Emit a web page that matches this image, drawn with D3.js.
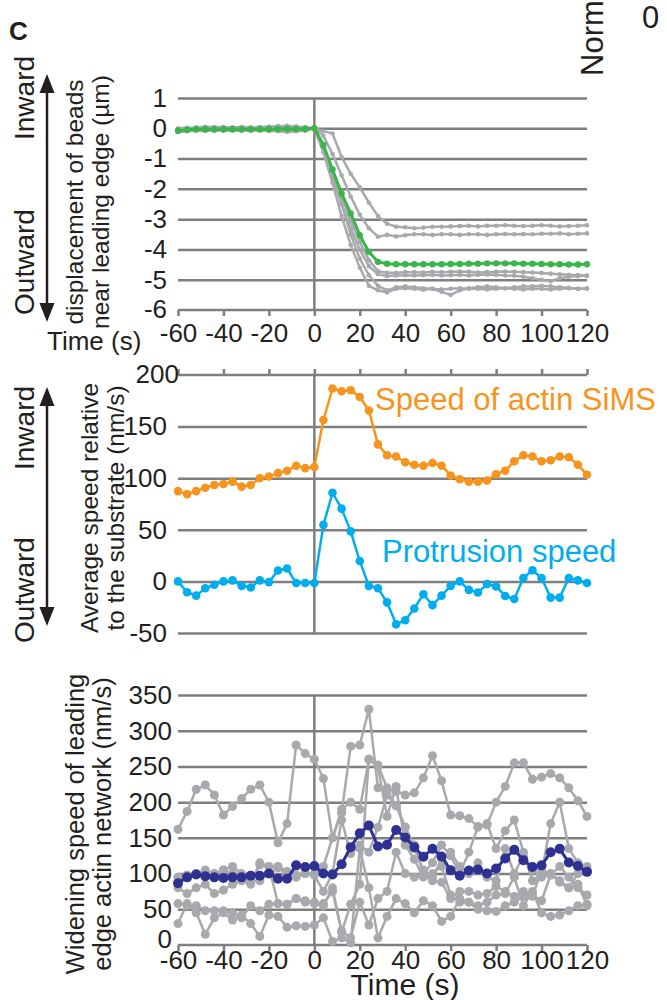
<!DOCTYPE html>
<html>
<head>
<meta charset="utf-8">
<script src="https://cdn.jsdelivr.net/npm/d3@7"></script>
<style>
body { margin: 0; background: #fff; }
svg text { font-family: "Liberation Sans", Arial, sans-serif; fill: #231f20; }
</style>
</head>
<body>
<script>
var width = 667,
	height = 1000;

// time points (s), every 4 s
var times = [-60,-56,-52,-48,-44,-40,-36,-32,-28,-24,-20,-16,-12,-8,-4,0,
	4,8,12,16,20,24,28,32,36,40,44,48,52,56,60,64,68,72,76,80,84,88,92,96,100,104,108,112,116,120];
var xTicks = [-60,-40,-20,0,20,40,60,80,100,120];

// Panel 1: bead displacement (um)
var beadTicks = [1,0,-1,-2,-3,-4,-5,-6];
var beadMean = [-0.08,-0.05,-0.03,-0.03,-0.03,-0.03,-0.03,-0.03,-0.03,-0.03,-0.03,-0.02,-0.02,-0.02,-0.02,0,
	-0.55,-1.36,-2.15,-2.81,-3.53,-4.08,-4.41,-4.47,-4.49,-4.49,-4.49,-4.49,-4.49,-4.49,-4.48,-4.48,-4.47,-4.47,-4.46,-4.46,-4.46,-4.46,-4.47,-4.47,-4.48,-4.49,-4.49,-4.5,-4.5,-4.49];
var beadA = [-0.1,-0.05,0,0.02,0.02,0.03,0.02,0.03,0.02,0.03,0.05,0.06,0.08,0.05,0.03,0,
	-0.1,-0.17,-0.95,-1.5,-1.95,-2.45,-2.9,-3.15,-3.25,-3.27,-3.3,-3.28,-3.25,-3.25,-3.24,-3.23,-3.22,-3.24,-3.22,-3.22,-3.2,-3.22,-3.23,-3.22,-3.2,-3.22,-3.24,-3.23,-3.22,-3.2];
var beadB = [-0.12,-0.1,-0.08,-0.08,-0.06,-0.08,-0.07,-0.06,-0.08,-0.07,-0.08,-0.1,-0.12,-0.1,-0.08,0,
	-0.25,-0.85,-1.55,-2.25,-2.85,-3.3,-3.58,-3.52,-3.57,-3.53,-3.5,-3.5,-3.52,-3.5,-3.5,-3.52,-3.5,-3.5,-3.52,-3.5,-3.49,-3.5,-3.49,-3.5,-3.48,-3.48,-3.47,-3.5,-3.48,-3.47];
var beadC = [0,0.02,0.03,0.05,0.04,0.04,0.03,0.04,0.03,0.04,0.05,0.07,0.05,0.06,0.03,0,
	-0.65,-1.45,-2.25,-3.05,-3.75,-4.35,-4.72,-4.77,-4.77,-4.75,-4.75,-4.76,-4.74,-4.75,-4.74,-4.73,-4.74,-4.76,-4.75,-4.74,-4.73,-4.74,-4.75,-4.76,-4.78,-4.8,-4.82,-4.84,-4.85,-4.86];
var beadD = [-0.05,-0.04,-0.03,-0.02,-0.03,-0.02,-0.04,-0.03,-0.02,-0.01,0,0.02,0,-0.01,-0.02,0,
	-0.7,-1.6,-2.5,-3.3,-4.0,-4.55,-4.82,-4.88,-4.86,-4.85,-4.86,-4.85,-4.84,-4.86,-4.85,-4.84,-4.86,-4.84,-4.83,-4.84,-4.86,-4.87,-4.9,-4.95,-5.0,-5.05,-4.95,-4.9,-4.88,-4.87];
var beadE = [-0.06,-0.04,-0.02,-0.03,-0.01,-0.02,-0.03,-0.02,-0.01,-0.02,-0.01,0,0.01,0.02,0,0,
	-0.8,-1.8,-2.9,-3.85,-4.6,-5.2,-5.35,-5.42,-5.3,-5.28,-5.3,-5.33,-5.3,-5.32,-5.3,-5.28,-5.3,-5.3,-5.32,-5.3,-5.28,-5.3,-5.32,-5.3,-5.3,-5.32,-5.3,-5.28,-5.3,-5.3];
var beadF = [-0.1,-0.08,-0.06,-0.07,-0.08,-0.06,-0.07,-0.08,-0.07,-0.06,-0.08,-0.09,-0.1,-0.09,-0.06,0,
	-0.6,-1.5,-2.5,-3.5,-4.3,-4.85,-5.2,-5.35,-5.25,-5.22,-5.25,-5.28,-5.3,-5.4,-5.5,-5.35,-5.28,-5.25,-5.22,-5.25,-5.28,-5.25,-5.22,-5.22,-5.2,-5.22,-5.25,-5.27,-5.3,-5.28];
var beads = [beadA, beadB, beadC, beadD, beadE, beadF];

// Panel 2: average speeds (nm/s)
var speedTicks = [200,150,100,50,0,-50];
var simsSpeed = [87.5,84.6,87.5,90.8,93.4,94.4,96.7,91.8,93.4,100,101.6,104.9,107.2,112.1,109.8,110.8,
	156.4,186.9,184.3,185.2,178.7,165.6,132.8,122.3,121,115.4,113.1,112.1,114.8,112.1,102.6,99,96.7,96.7,97.7,103.9,107.2,116.4,122.3,121,116.4,117.4,121,120.3,113.1,103.3];
var protrusionSpeed = [0,-10.5,-13.8,-6.6,-3.3,0,1,-4.3,-5.9,1,-0.7,10.5,12.5,-1.6,-1.6,-1.6,
	54.8,85.9,70.5,48.5,19.7,-4.3,-6.6,-20.3,-41.6,-37.7,-26.2,-12.5,-23,-13.8,-4.3,0,-8.2,-10.8,-2.6,-4.9,-14.1,-17,3.3,10.8,3.3,-15.7,-15.7,3.3,1,-1.6];

// Panel 3: widening speed (nm/s)
var widenTicks = [350,300,250,200,150,100,50,0];
var widenMean = [86.5,94.7,98.6,96.2,94.7,93.8,94.7,94.7,97.1,97.1,100,92.8,92.8,111.5,109.1,110.6,
	100,98.6,113,137,156.3,167.3,138,140.4,161,150.5,137,123.6,134.6,124,104.8,97.1,104.3,105.8,100,107.2,121.2,133.2,118.8,109.1,111.5,129.8,134.6,115.4,110.6,102.4];
var widen1 = [162,187,218,224,210,182,194,205,218,224,200,143,170,280,268,260,
	233,150,190,200,190,260,252,220,215,210,213,234,265,230,182,181,177,166,168,200,222,255,255,232,235,240,234,220,202,180];
var widen2 = [95,98,100,105,100,105,110,100,88,112,110,110,103,95,100,100,
	110,150,185,278,280,330,220,215,195,165,140,100,115,140,125,100,130,165,170,135,160,175,130,90,100,170,200,135,115,105];
var widen3 = [80,72,80,85,72,77,85,90,85,115,110,58,57,65,62,58,
	55,80,18,57,85,260,250,180,222,140,120,95,100,110,70,60,60,50,48,47,55,60,68,70,62,98,110,95,80,70];
var widen4 = [30,58,45,15,38,45,35,42,30,12,42,40,25,27,26,28,
	38,5,10,3,135,80,10,40,65,58,45,62,55,33,40,65,60,55,60,70,72,95,55,75,45,40,42,48,55,57];
var widen5 = [58,55,55,48,48,48,45,38,55,48,57,58,57,65,60,60,
	58,75,20,10,60,28,65,75,130,100,95,100,90,88,65,75,75,70,72,82,75,68,75,68,105,100,90,80,85,55];
var widen6 = [95,95,100,100,100,105,100,95,90,90,100,108,100,98,100,98,
	75,100,175,128,140,130,165,210,195,165,135,105,95,120,130,110,100,115,95,90,135,100,125,105,95,100,88,80,100,110];
var widens = [widen1, widen2, widen3, widen4, widen5, widen6];

var gridColor = "#7f7f7f",
	grayColor = "#a7a9ac",
	tickFont = "26px";

var svg = d3.select("body").append("svg")
	.attr("width", width)
	.attr("height", height);

var x = d3.scaleLinear()
	.domain([-60, 120])
	.range([178, 587]);

var y1 = d3.scaleLinear().domain([-6, 1]).range([310, 98]);
var y2 = d3.scaleLinear().domain([-50, 200]).range([633, 375]);
var y3 = d3.scaleLinear().domain([0, 350]).range([945, 695]);

// horizontal gridlines with labels on the left
function drawGrid(y, ticks, pad) {
	var g = svg.append("g")
		.attr("transform", "translate(" + x(-60) + ",0)")
		.call(d3.axisLeft(y)
			.tickValues(ticks)
			.tickSize(-(x(120) - x(-60)))
			.tickPadding(pad)
			.tickFormat(function(d) { return String(d); }));
	g.select(".domain").remove();
	g.selectAll("line")
		.attr("stroke", gridColor)
		.attr("stroke-width", 2.5);
	g.selectAll("text")
		.style("font-size", tickFont);
	return g;
}

// time axis with short ticks
function drawTimeAxis(yPos, up, showLabels, pad) {
	var axis = up ? d3.axisTop(x) : d3.axisBottom(x);
	var g = svg.append("g")
		.attr("transform", "translate(0," + yPos + ")")
		.call(axis.tickValues(xTicks)
			.tickSize(6)
			.tickPadding(pad)
			.tickFormat(function(d) { return showLabels ? String(d) : ""; }));
	g.select(".domain")
		.attr("d", "M" + x(-60) + ",0H" + x(120))
		.attr("stroke", gridColor)
		.attr("stroke-width", 2.5);
	g.selectAll("line")
		.attr("stroke", gridColor)
		.attr("stroke-width", 2.5);
	g.selectAll("text")
		.style("font-size", tickFont);
	return g;
}

function vLine(y0, y1v) {
	svg.append("line")
		.attr("x1", x(0)).attr("x2", x(0))
		.attr("y1", y0).attr("y2", y1v)
		.attr("stroke", gridColor)
		.attr("stroke-width", 2.5);
}

function drawSeries(y, values, color, lw, r) {
	var line = d3.line()
		.x(function(d, i) { return x(times[i]); })
		.y(function(d) { return y(d); });
	var g = svg.append("g");
	g.append("path")
		.datum(values)
		.attr("d", line)
		.attr("fill", "none")
		.attr("stroke", color)
		.attr("stroke-width", lw)
		.attr("stroke-linejoin", "round");
	g.selectAll("circle")
		.data(values)
		.enter().append("circle")
		.attr("cx", function(d, i) { return x(times[i]); })
		.attr("cy", function(d) { return y(d); })
		.attr("r", r)
		.attr("fill", color);
}

function rotText(cx, cy, lines, size, gap, anchor) {
	var t = svg.append("text")
		.attr("transform", "translate(" + cx + "," + cy + ") rotate(-90)")
		.attr("text-anchor", anchor || "middle")
		.style("font-size", size + "px");
	lines.forEach(function(s, i) {
		t.append("tspan")
			.attr("x", 0)
			.attr("dy", i == 0 ? 0 : gap)
			.text(s);
	});
}

function arrow(ax, top, bottom) {
	var hw = 7.5, hl = 19;
	svg.append("line")
		.attr("x1", ax).attr("x2", ax)
		.attr("y1", top + hl - 2).attr("y2", bottom - hl + 2)
		.attr("stroke", "#231f20")
		.attr("stroke-width", 2.5);
	svg.append("path")
		.attr("d", "M" + ax + "," + top + "L" + (ax - hw) + "," + (top + hl) + "L" + (ax + hw) + "," + (top + hl) + "Z")
		.attr("fill", "#231f20");
	svg.append("path")
		.attr("d", "M" + ax + "," + bottom + "L" + (ax - hw) + "," + (bottom - hl) + "L" + (ax + hw) + "," + (bottom - hl) + "Z")
		.attr("fill", "#231f20");
}

// ---- Panel 1 ----
drawGrid(y1, beadTicks.slice(0, -1), 11);
svg.append("text").attr("x", 167).attr("y", y1(-6)).attr("dy", "0.32em")
	.attr("text-anchor", "end").style("font-size", tickFont).text("-6");
drawTimeAxis(y1(-6), false, true, 8);
vLine(y1(1), y1(-6));
beads.forEach(function(b) { drawSeries(y1, b, grayColor, 2.5, 2.3); });
drawSeries(y1, beadMean, "#39b54a", 3, 3.2);
svg.append("text").attr("x", 47).attr("y", 350).style("font-size", "26px").text("Time (s)");
rotText(83, 202, ["displacement of beads", "near leading edge (µm)"], 24.5, 26);

// ---- Panel 2 ----
drawGrid(y2, speedTicks.slice(1), 11);
drawTimeAxis(y2(200), true, false, 6);
svg.append("text").attr("x", 179).attr("y", y2(200)).attr("dy", "0.32em")
	.attr("text-anchor", "end").style("font-size", tickFont).text("200");
vLine(y2(200), y2(-50));
drawSeries(y2, simsSpeed, "#f7941d", 2.5, 4.3);
drawSeries(y2, protrusionSpeed, "#00aeef", 2.5, 4.3);
svg.append("text").attr("x", 375).attr("y", 410).style("font-size", "31px")
	.style("fill", "#f7941d").text("Speed of actin SiMS");
svg.append("text").attr("x", 382).attr("y", 562).style("font-size", "31px")
	.style("fill", "#00aeef").text("Protrusion speed");
rotText(98, 508, ["Average speed relative", "to the substrate (nm/s)"], 24.5, 26);

// ---- Panel 3 ----
drawGrid(y3, widenTicks.slice(0, -1), 6);
svg.append("text").attr("x", 172).attr("y", y3(0) - 5).attr("dy", "0.32em")
	.attr("text-anchor", "end").style("font-size", tickFont).text("0");
drawTimeAxis(y3(0), false, true, 0);
vLine(y3(350), y3(0));
widens.forEach(function(w) { drawSeries(y3, w, grayColor, 2.5, 4.5); });
drawSeries(y3, widenMean, "#2e3192", 3, 5);
svg.append("text").attr("x", 405).attr("y", 995).attr("text-anchor", "middle")
	.style("font-size", "30px").text("Time (s)");
rotText(84, 824, ["Widening speed of leading", "edge actin network (nm/s)"], 25.5, 27);

// ---- direction arrows ----
arrow(47, 74, 322);
rotText(34, 98, ["Inward"], 28, 0);
rotText(34, 262, ["Outward"], 28, 0);
arrow(47, 387, 626);
rotText(34, 428, ["Inward"], 28, 0);
rotText(34, 590, ["Outward"], 28, 0);

// panel letter and cut-off neighbour text
svg.append("text").attr("x", 9).attr("y", 40).style("font-size", "26px")
	.style("font-weight", "bold").text("C");
rotText(603, 76, ["Norm"], 31, 0, "start");
svg.append("text").attr("x", 642).attr("y", 28).style("font-size", "31px").text("0");
</script>
</body>
</html>
